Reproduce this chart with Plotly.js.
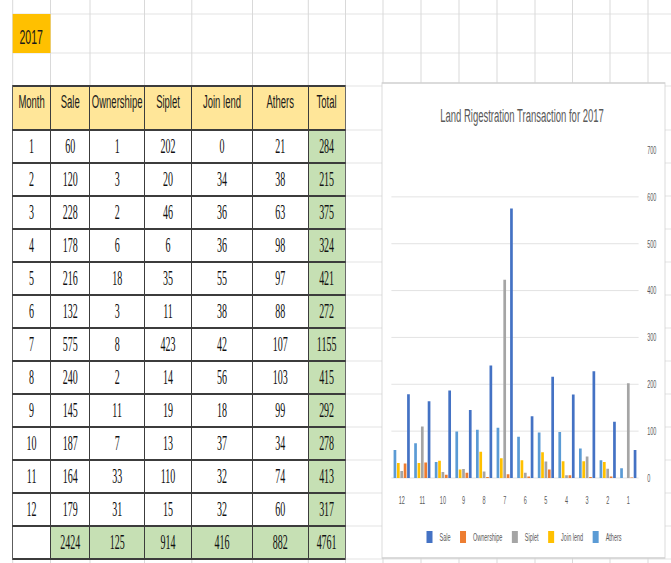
<!DOCTYPE html>
<html><head><meta charset="utf-8">
<script src="https://cdn.plot.ly/plotly-3.0.1.min.js"></script>
<style>
html,body{margin:0;padding:0;overflow:hidden;background:#fff;width:671px;height:563px}
#wrap{width:671px;height:563px;overflow:hidden;position:relative}
#plot{width:1342px;height:563px;transform:scaleX(0.5);transform-origin:0 0;position:absolute;left:0;top:0}
</style></head><body><div id="wrap"><div id="plot"></div></div>
<script>
// ---- data ----
const yearLabel = '2017';
const chartTitle = 'Land Rigestration Transaction for 2017';
const months = ['1','2','3','4','5','6','7','8','9','10','11','12'];
const headers = ['Month','Sale','Ownershipe','Siplet','Join lend','Athers','Total'];
const seriesNames = ['Sale','Ownershipe','Siplet','Join lend','Athers'];
const sale       = [60,120,228,178,216,132,575,240,145,187,164,179];
const ownershipe = [1,3,2,6,18,3,8,2,11,7,33,31];
const siplet     = [202,20,46,6,35,11,423,14,19,13,110,15];
const joinLend   = [0,34,36,36,55,38,42,56,18,37,32,32];
const athers     = [21,38,63,98,97,88,107,103,99,34,74,60];
const monthTotals  = [284,215,375,324,421,272,1155,415,292,278,413,317];
const seriesTotals = [2424,125,914,416,882];
const grandTotal   = 4761;
const yTickVals = [0,100,200,300,400,500,600,700];

// ---- styling / geometry ----
const W = 1342, H = 563, S = 0.5;            // page is drawn 2x wide and squeezed
const px = x => (x / S) / W;                  // x in on-screen pixels -> paper
const py = y => 1 - y / H;                    // y in on-screen pixels -> paper
const seriesColors = ['#4472C4','#ED7D31','#A5A5A5','#FFC000','#5B9BD5'];
const gridCol = '#d9d9d9';
const txtGray = '#595959';
const HEADER_H = 44, ROW_H = 33, TABLE_TOP = 86;
const colEdges = [12.7, 50.5, 90, 144.5, 191.8, 252.5, 308.3, 345.5];
const sheetColX = [12.7, 50.5, 90, 144.5, 191.8, 252.5, 308.3, 345.5, 383, 421, 459, 497, 535, 572.5, 610, 648];

const seriesData = [sale, ownershipe, siplet, joinLend, athers];

// table columns
const tableCols = [months.concat([''])];
seriesData.forEach((s, i) => tableCols.push(s.concat([seriesTotals[i]])));
tableCols.push(monthTotals.concat([grandTotal]));
const green = '#C6E0B4';
const fillCols = tableCols.map((c, ci) => c.map((v, ri) => {
  if (ci === 6) return green;
  if (ri === months.length && ci > 0) return green;
  return '#ffffff';
}));
const colWidths = colEdges.slice(1).map((e, i) => e - colEdges[i]);

const traces = [];
seriesNames.forEach((n, i) => {
  traces.push({
    type: 'bar', name: n, x: months, y: seriesData[i],
    marker: {color: seriesColors[i]}, xaxis: 'x', yaxis: 'y', hoverinfo: 'x+y+name'
  });
});
traces.push({
  type: 'table',
  domain: {x: [px(colEdges[0]), px(colEdges[7])], y: [py(562), py(TABLE_TOP)]},
  columnwidth: colWidths,
  header: {
    values: headers, height: HEADER_H, align: 'center',
    fill: {color: '#FFE699'}, line: {color: '#3c3c3c', width: 2},
    font: {family: 'Liberation Sans, Arial, sans-serif', size: 19, color: '#1a1a1a'}
  },
  cells: {
    values: tableCols, height: ROW_H, align: 'center',
    fill: {color: fillCols}, line: {color: '#3c3c3c', width: 2},
    font: {family: 'Liberation Serif, Times New Roman, serif', size: 20, color: '#111111'}
  }
});

// spreadsheet background grid + chart panel
const shapes = [];
const rowLines = [14, 53, TABLE_TOP];
for (let r = 0; r <= months.length + 1; r++) rowLines.push(TABLE_TOP + HEADER_H + r * ROW_H);
rowLines.forEach(y => shapes.push({type:'line', xref:'paper', yref:'paper', layer:'below',
  x0: px(12.7), x1: 1, y0: py(y), y1: py(y), line:{color: gridCol, width: 1}}));
sheetColX.forEach(x => shapes.push({type:'line', xref:'paper', yref:'paper', layer:'below',
  x0: px(x), x1: px(x), y0: 0, y1: 1, line:{color: gridCol, width: 2}}));
// year cell
shapes.push({type:'rect', xref:'paper', yref:'paper', layer:'below',
  x0: px(12.7), x1: px(50.5), y0: py(53), y1: py(14), fillcolor:'#FFC000', line:{width:0}});
// chart panel
shapes.push({type:'rect', xref:'paper', yref:'paper', layer:'below',
  x0: px(382), x1: px(665), y0: py(558), y1: py(83), fillcolor:'#ffffff', line:{color:'#d0d0d0', width:1.5}});

const layout = {
  width: W, height: H,
  margin: {l:0, r:0, t:0, b:0},
  paper_bgcolor: '#ffffff', plot_bgcolor: '#ffffff',
  showlegend: true,
  title: {text: chartTitle, x: px(522), xref:'paper', xanchor:'center', y: py(115), yref:'paper', yanchor:'middle',
    font: {family:'Liberation Sans, Arial, sans-serif', size: 19, color: txtGray}},
  barmode: 'group', bargap: 0.18, bargroupgap: 0.2,
  xaxis: {type:'category', domain:[px(391.4), px(638.6)], autorange:'reversed',
    showgrid:false, showline:false, zeroline:false, ticks:'outside', ticklen: 12, tickcolor:'rgba(0,0,0,0)',
    tickfont:{family:'Liberation Sans, Arial, sans-serif', size: 11, color: txtGray}},
  yaxis: {domain:[py(478), py(150)], range:[0,700], side:'right', tickvals: yTickVals,
    showgrid:true, gridcolor: gridCol, gridwidth: 1, zeroline:true, zerolinecolor: gridCol, zerolinewidth: 1,
    showline:false, ticks:'outside', ticklen: 14, tickcolor:'rgba(0,0,0,0)',
    tickfont:{family:'Liberation Sans, Arial, sans-serif', size: 11, color: txtGray}},
  legend: {orientation:'h', x: px(522), xanchor:'center', y: py(537), yanchor:'middle',
    bgcolor:'rgba(0,0,0,0)', itemwidth: 30, traceorder:'normal',
    font:{family:'Liberation Sans, Arial, sans-serif', size: 11, color: txtGray}},
  annotations: [{text: yearLabel, xref:'paper', yref:'paper', x: px(31), y: py(36),
    xanchor:'center', yanchor:'middle', showarrow:false,
    font:{family:'Liberation Sans, Arial, sans-serif', size: 21, color:'#1a1a1a'}}],
  shapes: shapes
};

Plotly.newPlot('plot', traces, layout, {displayModeBar:false, staticPlot:true});
</script></body></html>
